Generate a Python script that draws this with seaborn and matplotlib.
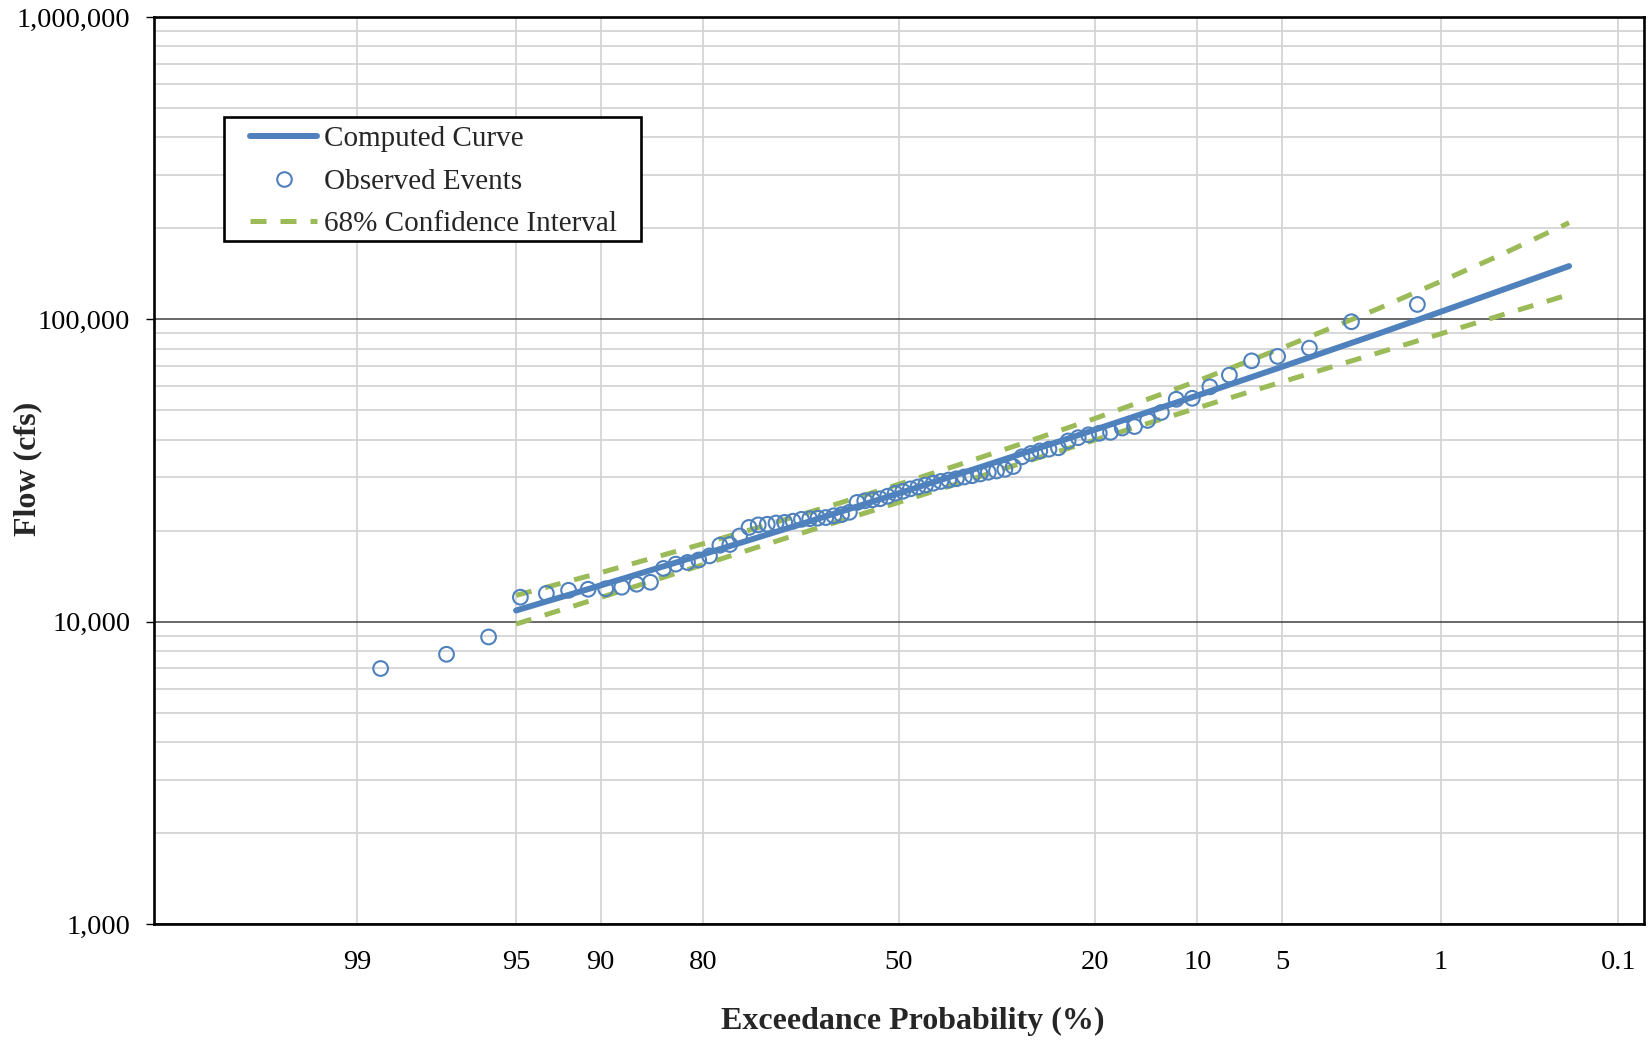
import numpy as np
import pandas as pd
import matplotlib
matplotlib.use("Agg")
import matplotlib.pyplot as plt
import seaborn as sns
from statistics import NormalDist
from matplotlib.lines import Line2D
from matplotlib.patches import Rectangle
from matplotlib.ticker import FixedLocator, FuncFormatter, LogLocator, NullFormatter

# ---------------- data ----------------
# observed annual peak flows, ranked from largest (rank 1) to smallest
observed_flow = [112000, 98200, 80300, 75400, 72900, 65400, 59800, 54800, 54400, 49200,
                 46300, 44200, 43700, 42300, 42000, 41500, 40600, 39600, 37600, 37200,
                 36700, 36000, 35100, 32600, 31900, 31500, 31200, 30800, 30400, 30100,
                 29700, 29400, 29100, 28700, 28300, 27900, 27500, 27000, 26600, 26000,
                 25500, 25300, 25100, 24800, 23000, 22600, 22400, 22100, 22000, 21900,
                 21800, 21500, 21300, 21200, 21000, 20900, 20500, 19200, 18000, 17900,
                 16500, 16000, 15700, 15500, 15000, 13500, 13300, 13000, 12850, 12800,
                 12700, 12400, 12050, 8900, 7800, 7000]

curve_prob = [95, 90, 80, 70, 60, 50, 40, 30, 20, 10, 5, 2, 1, 0.5, 0.2]
curve_flow = [10890, 13180, 16700, 19860, 23070, 26610, 30690, 35890, 43150, 55980,
              69660, 89330, 105900, 123900, 150000]
upper_flow = [12220, 14520, 18100, 21380, 24700, 28500, 32960, 38730, 46990, 62500,
              80350, 108100, 133400, 162200, 208700]
lower_flow = [9820, 12020, 15440, 18490, 21530, 24830, 28640, 33420, 39900, 50930,
              62090, 77270, 89540, 102600, 120800]

xtick_probs = [99, 95, 90, 80, 50, 20, 10, 5, 1, 0.1]
xtick_labels = ["99", "95", "90", "80", "50", "20", "10", "5", "1", "0.1"]
ytick_vals = [1000, 10000, 100000, 1000000]

legend_labels = ["Computed Curve", "Observed Events", "68% Confidence Interval"]

BLUE = "#4F81BD"
GREEN = "#9BBB59"

nd = NormalDist()


def prob_to_x(p):
    """exceedance probability (%) -> normal-probability axis coordinate"""
    return nd.inv_cdf(1 - p / 100.0)


n = len(observed_flow)
obs_df = pd.DataFrame({
    "prob": [100.0 * (i + 1) / (n + 1) for i in range(n)],
    "flow": observed_flow,
})
obs_df["x"] = obs_df["prob"].apply(prob_to_x)

curve_df = pd.DataFrame({"prob": curve_prob, "curve": curve_flow,
                         "upper": upper_flow, "lower": lower_flow})
curve_df["x"] = curve_df["prob"].apply(prob_to_x)

# ---------------- figure ----------------
sns.set_theme(style="white")
plt.rcParams["font.family"] = ["Liberation Serif", "DejaVu Serif"]

W, H = 1650, 1042
fig = plt.figure(figsize=(16.5, 10.42), dpi=100)
ax = fig.add_axes([154 / W, 118 / H, 1490 / W, 907 / H])

ax.set_yscale("log")

dash = (0, (3.2, 2.8))
sns.lineplot(data=curve_df, x="x", y="upper", ax=ax, color=GREEN, lw=3.6,
             linestyle=dash, sort=False, estimator=None, zorder=3)
sns.lineplot(data=curve_df, x="x", y="lower", ax=ax, color=GREEN, lw=3.6,
             linestyle=dash, sort=False, estimator=None, zorder=3)
sns.lineplot(data=curve_df, x="x", y="curve", ax=ax, color=BLUE, lw=4.3,
             sort=False, estimator=None, zorder=4)
for ln in ax.lines:
    ln.set_dash_capstyle("butt")
    ln.set_solid_capstyle("round")

sns.scatterplot(data=obs_df, x="x", y="flow", ax=ax, s=112, marker="o",
                color=BLUE, zorder=5)
coll = ax.collections[-1]
coll.set_facecolor("none")
coll.set_edgecolor(BLUE)
coll.set_linewidth(1.5)

# axes limits
ax.set_xlim(-3.2, 3.2)
ax.set_ylim(1000, 1000000)

# x ticks (probability scale)
ax.xaxis.set_major_locator(FixedLocator([prob_to_x(p) for p in xtick_probs]))
ax.set_xticklabels(xtick_labels)
ax.tick_params(axis="x", length=0, pad=18.5, labelsize=20.5, colors="black")

# y ticks
ax.yaxis.set_major_locator(FixedLocator(ytick_vals))
ax.yaxis.set_major_formatter(FuncFormatter(lambda v, _: f"{int(round(v)):,}"))
ax.yaxis.set_minor_locator(LogLocator(base=10, subs=np.arange(2, 10)))
ax.yaxis.set_minor_formatter(NullFormatter())
ax.tick_params(axis="y", which="major", left=True, length=6, width=1.0,
               direction="out", pad=11, labelsize=20.5, colors="black")
ax.tick_params(axis="y", which="minor", left=False, length=0)

# gridlines
ax.set_axisbelow(True)
ax.grid(axis="x", which="major", color="#D4D4D4", lw=1.3)
ax.grid(axis="y", which="minor", color="#D4D4D4", lw=1.3)
ax.grid(axis="y", which="major", color="#404040", lw=1.1)

for sp in ax.spines.values():
    sp.set_visible(True)
    sp.set_color("black")
    sp.set_linewidth(1.9)

ax.set_xlabel("")
ax.set_ylabel("")
fig.text(913 / W, 1 - 1021 / H, "Exceedance Probability (%)",
         ha="center", va="center", fontsize=23, fontweight="bold")
fig.text(28 / W, 1 - 469 / H, "Flow (cfs)", rotation=90,
         ha="center", va="center", fontsize=23, fontweight="bold")

# legend: frame drawn as a separate box so its padding can match the reference
box = Rectangle((224 / W, 1 - 241 / H), (641 - 224) / W, (241 - 117) / H,
                transform=fig.transFigure, facecolor="white", edgecolor="black",
                lw=1.9, zorder=6, clip_on=False)
ax.add_patch(box)

handles = [
    Line2D([], [], color=BLUE, lw=4.3, solid_capstyle="round"),
    Line2D([], [], color=BLUE, marker="o", markersize=10.5, markerfacecolor="none",
           markeredgewidth=1.5, linestyle="none"),
    Line2D([], [], color=GREEN, lw=3.6, linestyle=dash, dash_capstyle="butt"),
]
leg = ax.legend(handles, legend_labels, loc="upper left",
                bbox_to_anchor=(250 / W, 1 - 126 / H), bbox_transform=fig.transFigure,
                borderaxespad=0, frameon=False,
                fontsize=21, handlelength=2.3, handletextpad=0.22,
                labelspacing=0.55, borderpad=0)
leg.set_zorder(7)

fig.savefig("out.png", dpi=100)
